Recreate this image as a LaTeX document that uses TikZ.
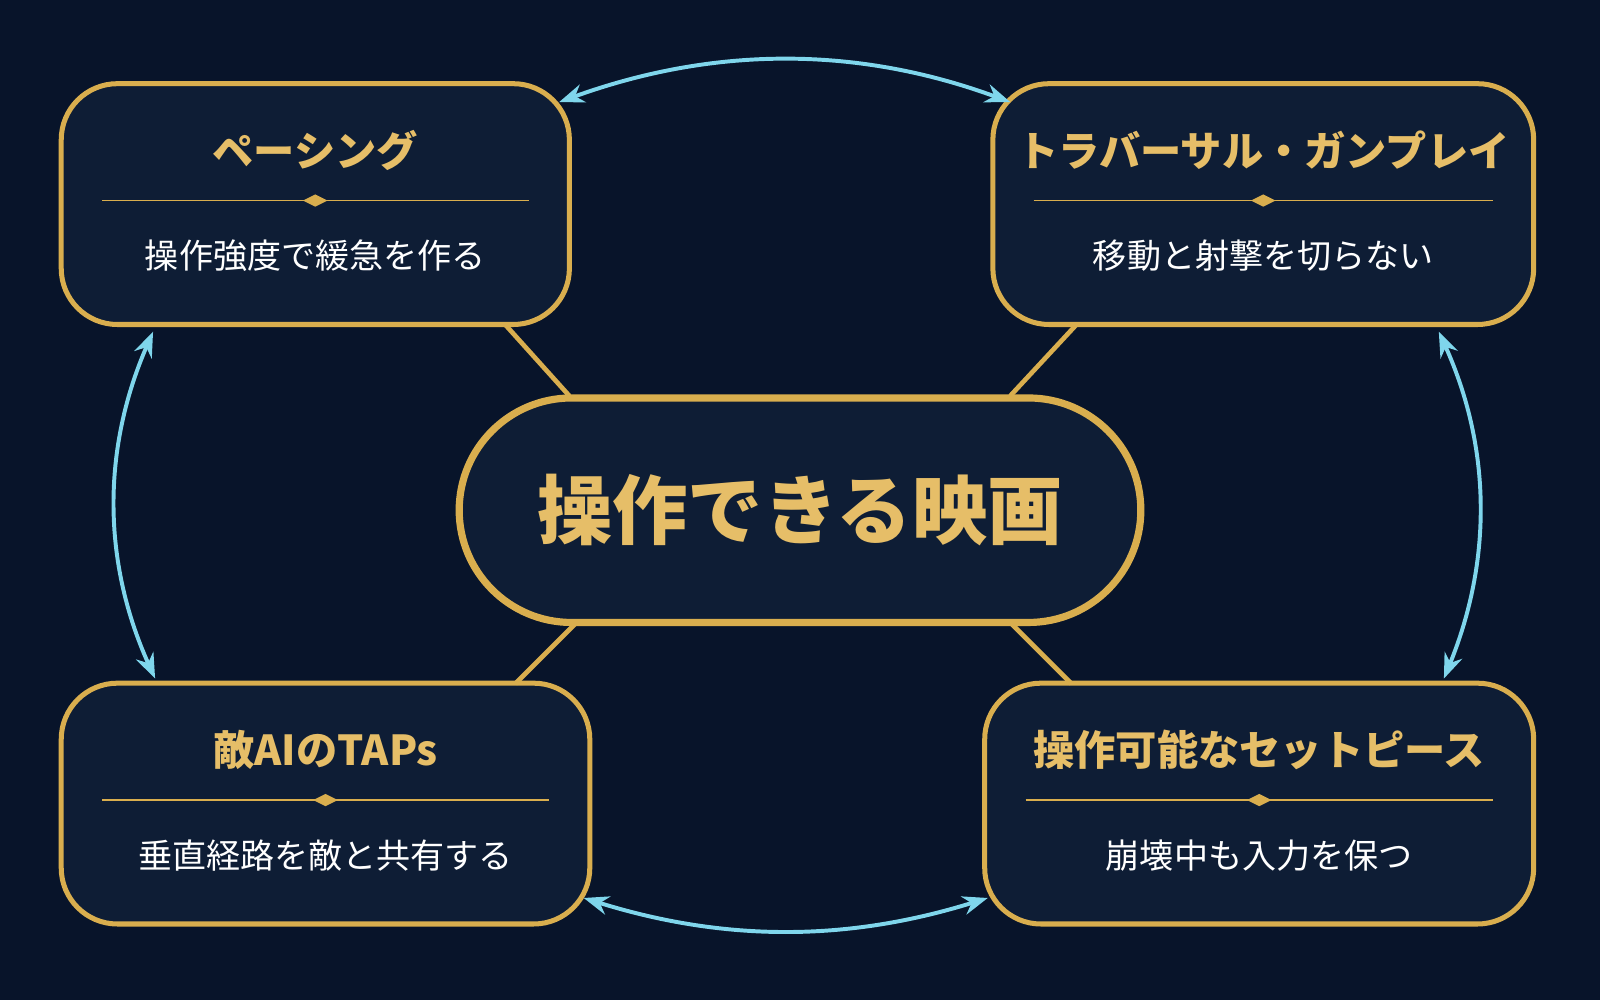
\documentclass[tikz,border=0pt]{standalone}
\usepackage{fontspec}
\newfontfamily\jpfont{Noto Sans CJK JP}
\usetikzlibrary{calc, positioning, arrows.meta}

\definecolor{bgnavy}{HTML}{08142A}
\definecolor{boxfill}{HTML}{0E1D35}
\definecolor{goldline}{HTML}{D9AE4E}
\definecolor{goldtext}{HTML}{E6BE68}
\definecolor{cyanline}{HTML}{7FD6EC}

\tikzset{
  card/.style = {draw=goldline, line width=1.4pt, fill=boxfill, rounded corners=0.55cm},
  hub/.style = {draw=goldline, line width=2pt, fill=boxfill, rounded corners=1.1cm,
                minimum width=6.68cm, minimum height=2.2cm,
                text=goldtext, font=\jpfont\bfseries\fontsize{21}{24}\selectfont},
  head/.style = {text=goldtext, font=\jpfont\bfseries\fontsize{11.5}{14}\selectfont},
  sub/.style = {text=white, font=\jpfont\fontsize{9.5}{11}\selectfont},
  spoke/.style = {draw=goldline, line width=1.3pt},
  loop/.style = {draw=cyanline, line width=1.1pt, {Stealth[length=7pt]}-{Stealth[length=7pt]}}
}

\begin{document}
\begin{tikzpicture}

  \fill[bgnavy] (0,0) rectangle (15.68,9.8);
  \useasboundingbox (0,0) rectangle (15.68,9.8);

  % corner cards: center x, width, center y, name, heading, subtitle
  \foreach \cx/\w/\cy/\nm/\hd/\sb in {
      3.09/4.98/7.80/pacing/ペーシング/操作強度で緩急を作る,
      12.38/5.30/7.80/travers/トラバーサル・ガンプレイ/移動と射撃を切らない,
      3.19/5.18/1.925/enemy/敵AIのTAPs/垂直経路を敵と共有する,
      12.34/5.38/1.925/setpiece/操作可能なセットピース/崩壊中も入力を保つ}{
    \node[card, minimum width=\w cm, minimum height=2.36cm] (\nm) at (\cx,\cy) {};
    \node[head] at ($(\nm.north)+(0,-0.68)$) {\hd};
    \draw[goldline, line width=0.5pt] ($(\nm.north)+(-\w/2+0.4,-1.17)$) -- ($(\nm.north)+(\w/2-0.4,-1.17)$);
    \fill[goldline] ($(\nm.north)+(-0.12,-1.17)$) -- ++(0.12,0.06) -- ++(0.12,-0.06) -- ++(-0.12,-0.06) -- cycle;
    \node[sub] at ($(\nm.north)+(0,-1.71)$) {\sb};
  }

  % central hub
  \node[hub] (film) at (7.84,4.80) {操作できる映画};

  % gold spokes
  \coordinate (tl) at (4.95,6.62);
  \coordinate (tr) at (10.55,6.62);
  \coordinate (bl) at (5.05,3.10);
  \coordinate (br) at (10.50,3.10);
  \draw[spoke] (5.58,5.92) -- (tl);
  \draw[spoke] (9.90,5.92) -- (tr);
  \draw[spoke] (5.65,3.70) -- (bl);
  \draw[spoke] (9.90,3.70) -- (br);

  % cyan cycle arrows
  \draw[loop] (5.48,8.80) .. controls (7.0,9.35) and (8.4,9.35) .. (9.90,8.80);
  \draw[loop] (1.50,6.55) .. controls (1.00,5.4) and (1.00,4.3) .. (1.52,3.15);
  \draw[loop] (14.10,6.55) .. controls (14.62,5.4) and (14.62,4.3) .. (14.15,3.15);
  \draw[loop] (5.72,1.00) .. controls (7.1,0.57) and (8.3,0.57) .. (9.68,1.00);

\end{tikzpicture}
\end{document}
